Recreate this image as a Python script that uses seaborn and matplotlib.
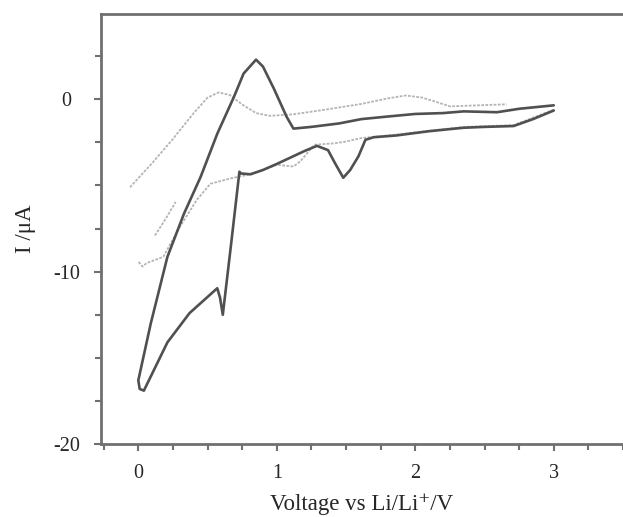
import numpy as np
import pandas as pd
import matplotlib
matplotlib.use("Agg")
import matplotlib.pyplot as plt
import seaborn as sns
from matplotlib.ticker import MultipleLocator

# dark CV loop: cathodic branch (3 V -> 0 V) then anodic branch (0 V -> 3 V)
dark_v = [3.00, 2.85, 2.71, 2.50, 2.35, 2.10, 1.86, 1.70, 1.64, 1.59, 1.53, 1.48,
          1.42, 1.37, 1.29, 1.20, 1.12, 1.00, 0.90, 0.81, 0.74, 0.73, 0.67,
          0.61, 0.59, 0.57, 0.37, 0.21, 0.04, 0.01, 0.00, 0.09,
          0.21, 0.33, 0.45, 0.57, 0.69, 0.76, 0.85, 0.90, 0.98, 1.07, 1.12, 1.25,
          1.45, 1.61, 1.80, 2.00, 2.20, 2.35, 2.59, 2.75, 3.00]
dark_i = [-0.65, -1.15, -1.55, -1.60, -1.65, -1.85, -2.10, -2.20, -2.35, -3.30,
          -4.10, -4.55, -3.70, -2.95, -2.70, -3.00, -3.30, -3.75, -4.10, -4.35,
          -4.30, -4.20, -8.40, -12.50, -11.50, -10.96, -12.40, -14.10,
          -16.90, -16.80, -16.30, -13.00, -9.14, -6.63, -4.50, -2.00, 0.13, 1.49,
          2.30, 1.90, 0.60, -1.00, -1.70, -1.60, -1.40, -1.15, -1.00,
          -0.85, -0.80, -0.70, -0.75, -0.55, -0.35]

# grey trace, upper (anodic) part
grey1_v = [-0.06, 0.10, 0.25, 0.40, 0.50, 0.58, 0.66, 0.75, 0.85, 0.95, 1.12,
           1.35, 1.61, 1.80, 1.93, 2.05, 2.15, 2.25, 2.45, 2.66]
grey1_i = [-5.10, -3.70, -2.30, -0.80, 0.10, 0.40, 0.25, -0.30, -0.80, -0.96,
           -0.87, -0.60, -0.27, 0.05, 0.22, 0.10, -0.15, -0.41, -0.35, -0.29]

# grey trace, lower (cathodic) part
grey2_v = [3.00, 2.71, 2.35, 1.86, 1.61, 1.50, 1.42, 1.27, 1.17, 1.12, 1.00,
           0.90, 0.78, 0.66, 0.52, 0.42, 0.30, 0.18, 0.06, 0.03, 0.00]
grey2_i = [-0.60, -1.50, -1.60, -2.05, -2.25, -2.45, -2.55, -2.64, -3.60, -3.90,
           -3.80, -4.10, -4.40, -4.60, -4.90, -5.86, -7.40, -9.14, -9.50, -9.70,
           -9.40]

# short grey piece near the origin
grey3_v = [0.12, 0.20, 0.27]
grey3_i = [-7.90, -6.90, -5.95]

sns.set_style("white")
plt.rcParams['font.family'] = ['Liberation Serif', 'DejaVu Serif']

fig = plt.figure(figsize=(6.23, 5.17), dpi=100)
ax = fig.add_axes([0.162, 0.141, 0.838, 0.832])

for gv, gi in [(grey1_v, grey1_i), (grey2_v, grey2_i), (grey3_v, grey3_i)]:
    sns.lineplot(x=gv, y=gi, sort=False, estimator=None, ax=ax,
                 color='#b4b4b4', lw=1.3, ls=(0, (1.5, 0.8)))
sns.lineplot(x=dark_v, y=dark_i, sort=False, estimator=None, ax=ax,
             color='#505050', lw=1.9)

ax.set_xlim(-0.27, 3.5)
ax.set_ylim(-20, 4.95)

ax.xaxis.set_major_locator(MultipleLocator(1))
ax.xaxis.set_minor_locator(MultipleLocator(0.25))
ax.yaxis.set_major_locator(MultipleLocator(10))
ax.yaxis.set_minor_locator(MultipleLocator(2.5))

for s in ['left', 'top', 'bottom']:
    ax.spines[s].set_color('#707070')
    ax.spines[s].set_linewidth(2)
ax.spines['right'].set_visible(False)

ax.tick_params(axis='both', which='both', direction='out', color='#707070',
               width=1.5, labelsize=14.5, left=True, bottom=True)
ax.tick_params(axis='both', which='major', length=5)
ax.tick_params(axis='both', which='minor', length=4)
ax.tick_params(axis='y', which='major', pad=20)
ax.tick_params(axis='x', which='major', pad=9)
ax.set_yticks([0, -10, -20])
ax.set_yticklabels(['0', '-10', '-20'], ha='center')

ax.set_xlabel('Voltage vs Li/Li⁺/V', fontsize=16.5, labelpad=8)
ax.set_ylabel('I /μA', fontsize=16.5, labelpad=12)

fig.savefig('out.png', dpi=100)
